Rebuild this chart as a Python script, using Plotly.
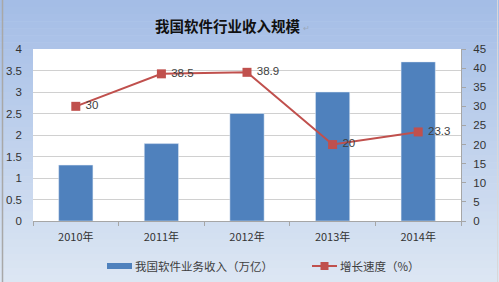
import plotly.graph_objects as go

years = ["2010年", "2011年", "2012年", "2013年", "2014年"]
revenue = [1.3, 1.8, 2.5, 3.0, 3.7]
growth = [30, 38.5, 38.9, 20, 23.3]
growth_labels = ["30", "38.5", "38.9", "20", "23.3"]
left_ticks = [0, 0.5, 1, 1.5, 2, 2.5, 3, 3.5, 4]
right_ticks = [0, 5, 10, 15, 20, 25, 30, 35, 40, 45]

title = "我国软件行业收入规模"
bar_name = "我国软件业务收入（万亿）"
line_name = "增长速度（%）"

BLUE = "#4F81BD"
RED = "#C0504D"
TXT = "#404040"
FONT = "Liberation Sans, Noto Sans CJK SC, sans-serif"
CJK = "Noto Sans CJK SC, sans-serif"

W, H = 499, 282
L, R, T, B = 33, 38, 49, 61
pw, ph = W - L - R, H - T - B


def px_x(p):
    return (p - L) / pw


def px_y(p):
    return (H - B - p) / ph


fig = go.Figure()
fig.add_trace(go.Bar(x=years, y=revenue, name=bar_name, marker_color=BLUE,
                     width=0.4, yaxis="y", showlegend=False))
fig.add_trace(go.Scatter(x=years, y=growth, name=line_name, yaxis="y2",
                         mode="lines+markers+text", text=growth_labels,
                         texttemplate=" %{text}",
                         textposition="middle right",
                         textfont=dict(size=11.5, color=TXT, family=FONT),
                         line=dict(color=RED, width=2),
                         marker=dict(symbol="square", size=9, color=RED),
                         showlegend=False, cliponaxis=False))

shapes = []
# background gradient
n = 40
top = (164, 189, 230)
bot = (220, 230, 243)
for i in range(n):
    f = i / (n - 1)
    c = tuple(int(round(top[k] + (bot[k] - top[k]) * f)) for k in range(3))
    y0 = i * H / n
    y1 = (i + 1) * H / n + 0.5
    shapes.append(dict(type="rect", xref="paper", yref="paper", layer="below",
                       x0=px_x(0), x1=px_x(W), y0=px_y(y1), y1=px_y(y0),
                       fillcolor="rgb(%d,%d,%d)" % c, line=dict(width=0)))
# plot area
shapes.append(dict(type="rect", xref="paper", yref="paper", layer="below",
                   x0=0, x1=1, y0=0, y1=1, fillcolor="white", line=dict(width=0)))
# frame lines
shapes.append(dict(type="line", xref="paper", yref="paper", layer="above",
                   x0=px_x(2.5), x1=px_x(2.5), y0=px_y(0), y1=px_y(H),
                   line=dict(color="#a8a8a8", width=1.5)))
shapes.append(dict(type="line", xref="paper", yref="paper", layer="above",
                   x0=px_x(497.5), x1=px_x(497.5), y0=px_y(0), y1=px_y(H),
                   line=dict(color="#d8d8d8", width=1)))
# legend symbols
ly = 266
shapes.append(dict(type="rect", xref="paper", yref="paper", layer="above",
                   x0=px_x(107), x1=px_x(132), y0=px_y(ly + 3), y1=px_y(ly - 3),
                   fillcolor=BLUE, line=dict(width=0)))
shapes.append(dict(type="line", xref="paper", yref="paper", layer="above",
                   x0=px_x(312), x1=px_x(337), y0=px_y(ly), y1=px_y(ly),
                   line=dict(color=RED, width=2)))
shapes.append(dict(type="rect", xref="paper", yref="paper", layer="above",
                   x0=px_x(320.5), x1=px_x(328.5), y0=px_y(ly + 4), y1=px_y(ly - 4),
                   fillcolor=RED, line=dict(width=0)))

annotations = [
    dict(text="<b>" + title + "</b>", xref="paper", yref="paper",
         x=px_x(227), y=px_y(26), xanchor="center", yanchor="middle",
         showarrow=False, font=dict(size=14.5, color="#111111", family=CJK)),
    dict(text="↵", xref="paper", yref="paper", x=px_x(301), y=px_y(27),
         xanchor="left", yanchor="middle", showarrow=False,
         font=dict(size=8, color="#9aa8bc", family=CJK)),
    dict(text=bar_name, xref="paper", yref="paper", x=px_x(133), y=px_y(ly),
         xanchor="left", yanchor="middle", showarrow=False,
         font=dict(size=11.5, color=TXT, family=CJK)),
    dict(text=line_name, xref="paper", yref="paper", x=px_x(338), y=px_y(ly),
         xanchor="left", yanchor="middle", showarrow=False,
         font=dict(size=11.5, color=TXT, family=CJK)),
]

fig.update_layout(
    width=W, height=H,
    margin=dict(l=L, r=R, t=T, b=B, pad=0, autoexpand=False),
    paper_bgcolor="#dce6f3", plot_bgcolor="white",
    shapes=shapes, annotations=annotations,
    bargap=0.6,
    font=dict(family=FONT, color=TXT, size=11),
    xaxis=dict(type="category", showgrid=False, showline=True,
               linecolor="#a6a6a6", linewidth=1, ticks="outside",
               tickson="boundaries", ticklen=4, tickcolor="#a6a6a6",
               ticklabelstandoff=6, automargin=False,
               tickfont=dict(size=11, color="#333333", family=CJK),
               fixedrange=True),
    yaxis=dict(range=[0, 4], tickvals=left_ticks,
               ticktext=[("%g" % v) for v in left_ticks],
               showgrid=True, gridcolor="#d0d0d0", gridwidth=1,
               zeroline=False, showline=False, ticks="", ticklabelstandoff=10,
               automargin=False,
               tickfont=dict(size=11.5, color="#333333")),
    yaxis2=dict(range=[0, 45], tickvals=right_ticks, overlaying="y",
                side="right", showgrid=False, zeroline=False,
                showline=True, linecolor="#a6a6a6", ticks="outside",
                ticklen=4, tickcolor="#a6a6a6", ticklabelstandoff=5,
                automargin=False,
                tickfont=dict(size=11.5, color="#333333")),
)

fig.write_html("out.html")
